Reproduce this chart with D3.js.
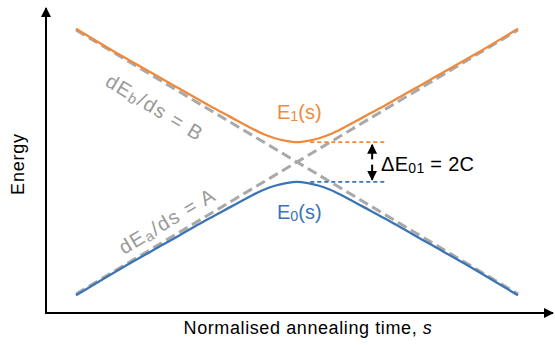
<!DOCTYPE html>
<html>
<head>
<meta charset="UTF-8">
<script src="https://d3js.org/d3.v7.min.js"></script>
<style>
  body { margin: 0; background: #fff; }
  text { font-family: "Liberation Sans", Arial, sans-serif; }
</style>
</head>
<body>
<div id="chart"></div>
<script>
// diabatic states (straight lines), s from 0 to 1
var diabS = [0, 1];
var diabA = [-1, 1];   // dEa/ds = A
var diabB = [1, -1];   // dEb/ds = B

// adiabatic curves
var adiabS  = [0, 0.1, 0.2, 0.3, 0.35, 0.4, 0.425, 0.45, 0.475, 0.5, 0.525, 0.55, 0.575, 0.6, 0.65, 0.7, 0.8, 0.9, 1];
var energy1 = [1.01, 0.81, 0.62, 0.43, 0.34, 0.25, 0.21, 0.18, 0.16, 0.15, 0.16, 0.18, 0.21, 0.25, 0.34, 0.43, 0.62, 0.81, 1.01];
var energy0 = energy1.map(function (v) { return -v; });

var gapC = 0.15;           // half gap
var gapS = [0.53, 0.70];   // extent of the dotted level marks
var arrowS = 0.67;

var width = 555, height = 345;
var orange = "#ef8a3c", blue = "#3b74b5", grey = "#a9a9a9";

var svg = d3.select("#chart").append("svg")
    .attr("width", width)
    .attr("height", height);

var x = d3.scaleLinear().domain([0, 1]).range([76, 518]);
var y = d3.scaleLinear().domain([-1, 1]).range([294, 30]);

var defs = svg.append("defs");
defs.append("marker")
    .attr("id", "head")
    .attr("viewBox", "0 0 10 10")
    .attr("refX", 9).attr("refY", 5)
    .attr("markerWidth", 5).attr("markerHeight", 5)
    .attr("markerUnits", "strokeWidth")
    .attr("orient", "auto-start-reverse")
    .append("path")
    .attr("d", "M0,0L10,5L0,10Z")
    .attr("fill", "#000");

// axes
svg.append("line")
    .attr("x1", 46).attr("y1", 313).attr("x2", 46).attr("y2", 8)
    .attr("stroke", "#000").attr("stroke-width", 2)
    .attr("marker-end", "url(#head)");
svg.append("line")
    .attr("x1", 45).attr("y1", 313).attr("x2", 553).attr("y2", 313)
    .attr("stroke", "#000").attr("stroke-width", 2)
    .attr("marker-end", "url(#head)");

svg.append("text")
    .attr("transform", "translate(24,164) rotate(-90)")
    .attr("text-anchor", "middle")
    .attr("font-size", 18)
    .attr("letter-spacing", 0.8)
    .text("Energy");

var xl = svg.append("text")
    .attr("x", 308).attr("y", 334)
    .attr("text-anchor", "middle")
    .attr("font-size", 18)
    .attr("letter-spacing", 0.6);
xl.append("tspan").text("Normalised annealing time, ");
xl.append("tspan").attr("font-style", "italic").text("s");

var line = d3.line()
    .x(function (d) { return x(d[0]); })
    .y(function (d) { return y(d[1]); });

var smooth = d3.line()
    .curve(d3.curveCatmullRom)
    .x(function (d) { return x(d[0]); })
    .y(function (d) { return y(d[1]); });

// diabatic dashed lines
[diabA, diabB].forEach(function (e) {
    svg.append("path")
        .attr("d", line(d3.zip(diabS, e)))
        .attr("fill", "none").attr("stroke", grey)
        .attr("stroke-width", 3)
        .attr("stroke-dasharray", "10,5");
});

// adiabatic curves
svg.append("path")
    .attr("d", smooth(d3.zip(adiabS, energy1)))
    .attr("fill", "none").attr("stroke", orange).attr("stroke-width", 2.3);
svg.append("path")
    .attr("d", smooth(d3.zip(adiabS, energy0)))
    .attr("fill", "none").attr("stroke", blue).attr("stroke-width", 2.3);

// level marks
[[gapC, orange], [-gapC, blue]].forEach(function (g) {
    svg.append("path")
        .attr("d", line(gapS.map(function (s) { return [s, g[0]]; })))
        .attr("stroke", g[1]).attr("stroke-width", 1.8)
        .attr("stroke-dasharray", "4,3");
});

// gap arrow
svg.append("line")
    .attr("x1", x(arrowS)).attr("y1", y(0.02))
    .attr("x2", x(arrowS)).attr("y2", y(0.13))
    .attr("stroke", "#000").attr("stroke-width", 2)
    .attr("marker-end", "url(#head)");
svg.append("line")
    .attr("x1", x(arrowS)).attr("y1", y(-0.02))
    .attr("x2", x(arrowS)).attr("y2", y(-0.135))
    .attr("stroke", "#000").attr("stroke-width", 2)
    .attr("marker-end", "url(#head)");

var gt = svg.append("text")
    .attr("x", 381).attr("y", 171)
    .attr("font-size", 20)
    .attr("letter-spacing", 0.3);
gt.append("tspan").text("ΔE");
gt.append("tspan").attr("font-size", 14).attr("dy", 2).text("01");
gt.append("tspan").attr("dy", -2).text(" = 2C");

// curve labels
function subLabel(px, py, main, sub, rest, color, rot, size, spacing) {
    var t = svg.append("text")
        .attr("transform", "translate(" + px + "," + py + ") rotate(" + rot + ")")
        .attr("font-size", size)
        .attr("letter-spacing", spacing)
        .attr("fill", color);
    t.append("tspan").text(main);
    t.append("tspan").attr("font-size", size * 0.72).attr("dy", 2).text(sub);
    t.append("tspan").attr("dy", -2).text(rest);
    return t;
}
subLabel(277, 119, "E", "1", "(s)", orange, 0, 20, 0);
subLabel(277, 219, "E", "0", "(s)", blue, 0, 20, 0);
subLabel(104, 85, "dE", "b", "/ds = B", "#999", 31, 20, 1.5);
subLabel(124, 255, "dE", "a", "/ds = A", "#999", -31, 20, 1.5);
</script>
</body>
</html>
